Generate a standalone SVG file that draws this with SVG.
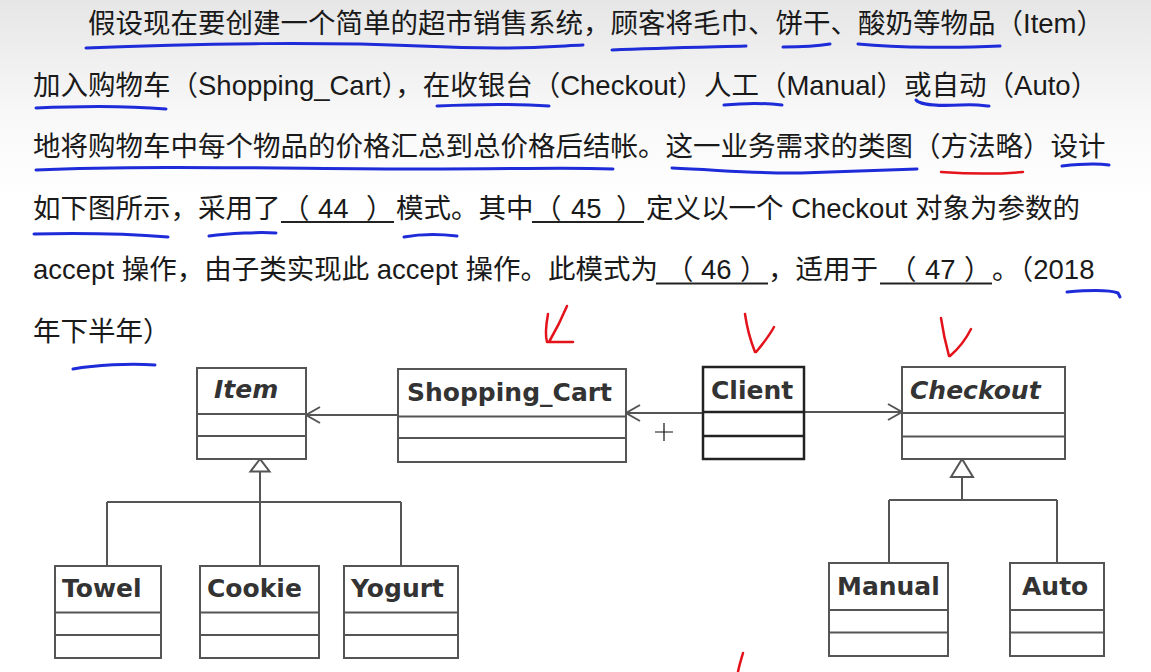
<svg xmlns="http://www.w3.org/2000/svg" width="1151" height="672" viewBox="0 0 1151 672">
<defs>
<linearGradient id="bg" x1="0" y1="0" x2="0" y2="1">
<stop offset="0" stop-color="#e6e6e6"/>
<stop offset="0.17" stop-color="#f8f8f8"/>
<stop offset="0.3" stop-color="#ffffff"/>
<stop offset="1" stop-color="#ffffff"/>
</linearGradient>
<marker id="open" markerUnits="userSpaceOnUse" markerWidth="18" markerHeight="20" viewBox="0 0 18 20" refX="16" refY="10" orient="auto">
<path d="M2,2 L16,10 L2,18" fill="none" stroke="#555" stroke-width="2"/>
</marker>
<style>
.t{font-family:'Liberation Sans','Noto Sans CJK SC',sans-serif;font-size:27.5px;fill:#1a1a1a}
.box{fill:#fff;stroke:#555;stroke-width:2}
.div{stroke:#555;stroke-width:2}
.lbl{font-family:'DejaVu Sans',sans-serif;font-weight:bold;font-size:25px;fill:#333}
.it{font-style:italic}
.conn{stroke:#555;stroke-width:2;fill:none}
.tri{fill:#fff;stroke:#555;stroke-width:2}
.ul{stroke:#222;stroke-width:1.8}
.blue{stroke:#1e2bd8;stroke-width:3;fill:none;stroke-linecap:round}
.red{stroke:#e3121b;stroke-width:2.5;fill:none;stroke-linecap:round;stroke-linejoin:round}
</style>
</defs>
<rect x="0" y="0" width="1151" height="672" fill="url(#bg)"/>

<g id="question-text">
<text class="t" x="88" y="33">假设现在要创建一个简单的超市销售系统，顾客将毛巾、饼干、酸奶等物品（Item）</text>
<text class="t" x="33" y="94.5">加入购物车（Shopping_Cart），在收银台（Checkout）人工（Manual）或自动（Auto）</text>
<text class="t" x="33" y="156">地将购物车中每个物品的价格汇总到总价格后结帐。这一业务需求的类图（方法略）设计</text>
<text class="t" y="217.5"><tspan x="33">如下图所示，采用了</tspan><tspan x="282">（</tspan><tspan x="318">44</tspan><tspan x="366">）</tspan><tspan x="396">模式。其中</tspan><tspan x="534">（</tspan><tspan x="571">45</tspan><tspan x="616">）</tspan><tspan x="646">定义以一个 Checkout 对象为参数的</tspan></text>
<text class="t" y="279"><tspan x="33">accept 操作，由子类实现此 accept 操作。此模式为</tspan><tspan x="666">（</tspan><tspan x="701">46</tspan><tspan x="740">）</tspan><tspan x="768">，适用于</tspan><tspan x="889">（</tspan><tspan x="925">47</tspan><tspan x="964">）</tspan><tspan x="992">。（2018</tspan></text>
<text class="t" x="33" y="340.5">年下半年）</text>
<line class="ul" x1="281" y1="222" x2="394" y2="222"/>
<line class="ul" x1="532" y1="222" x2="644" y2="222"/>
<line class="ul" x1="656" y1="283.5" x2="768" y2="283.5"/>
<line class="ul" x1="880" y1="283.5" x2="992" y2="283.5"/>
</g>

<g id="annotations">
<path class="blue" d="M86,48 C200,43 330,42 420,46 S540,47 583,45"/>
<path class="blue" d="M612,50 C660,48 710,47 746,46"/>
<path class="blue" d="M783,47 C800,47 818,46 830,44"/>
<path class="blue" d="M858,44 C900,48 960,48 1000,46"/>
<path class="blue" d="M36,108 C80,106 130,106 166,109"/>
<path class="blue" d="M437,106 C480,104 520,104 549,106"/>
<path class="blue" d="M724,105 C745,103 765,103 782,105"/>
<path class="blue" d="M916,100 C920,105 940,106 960,105 S985,106 989,106"/>
<path class="blue" d="M36,170 C150,165 300,169 420,169 S560,167 613,169"/>
<path class="blue" d="M672,168 C720,170 760,174 800,173 S880,170 917,169"/>
<path class="red" d="M941,172 C970,174 1000,174 1023,172"/>
<path class="blue" d="M1062,166 C1080,164 1095,163 1109,165"/>
<path class="blue" d="M34,234 C80,233 130,234 168,237"/>
<path class="blue" d="M209,236 C230,233 260,232 276,233"/>
<path class="blue" d="M404,237 C420,234 440,234 457,236"/>
<path class="blue" d="M1067,292 C1090,290 1110,290 1118,293 L1120,297"/>
<path class="blue" d="M73,369 C95,365 130,363 155,365"/>
<path class="red" d="M548,314 C546,325 545,335 547,342 L573,342 M567,306 C562,318 556,330 549,342"/>
<path class="red" d="M745,314 C747,328 751,342 755,352 M774,327 C768,338 761,346 756,352"/>
<path class="red" d="M941,318 C943,332 946,345 949,356 M971,329 C965,341 957,350 950,356"/>
<path class="red" d="M743,653 C741,660 739,666 738,672"/>
<path d="M655,432 H673 M664,423 V441" stroke="#111" stroke-width="1.2" fill="none"/>
</g>

<g id="connectors">
<line class="conn" x1="398" y1="415" x2="306" y2="415" marker-end="url(#open)"/>
<line class="conn" x1="703" y1="413" x2="626" y2="413" marker-end="url(#open)"/>
<line class="conn" x1="804" y1="412" x2="902" y2="412" marker-end="url(#open)"/>
<path class="conn" d="M260,471.5 V502 M107,502 H401 M107,502 V566 M260,502 V566 M401,502 V566"/>
<polygon class="tri" points="260,459 250.5,471.5 269.5,471.5"/>
<path class="conn" d="M962,477 V500 M889,500 H1057 M889,500 V563 M1057,500 V563"/>
<polygon class="tri" points="962,459 951,477 973,477"/>
</g>

<g id="Item">
<rect class="box" x="197" y="368" width="109" height="91"/>
<line class="div" x1="197" y1="414" x2="306" y2="414"/>
<line class="div" x1="197" y1="436" x2="306" y2="436"/>
<text class="lbl it" x="214" y="398">Item</text>
</g>
<g id="Shopping_Cart">
<rect class="box" x="398" y="369" width="228" height="93"/>
<line class="div" x1="398" y1="416.5" x2="626" y2="416.5"/>
<line class="div" x1="398" y1="438" x2="626" y2="438"/>
<text class="lbl" x="407" y="401">Shopping_Cart</text>
</g>
<g id="Client">
<rect x="703" y="367" width="101" height="92" fill="#fff" stroke="#222" stroke-width="2.5"/>
<line x1="703" y1="412" x2="804" y2="412" stroke="#222" stroke-width="2.5"/>
<line x1="703" y1="436" x2="804" y2="436" stroke="#222" stroke-width="2.5"/>
<text class="lbl" x="711" y="399">Client</text>
</g>
<g id="Checkout">
<rect class="box" x="902" y="367" width="163" height="92"/>
<line class="div" x1="902" y1="413" x2="1065" y2="413"/>
<line class="div" x1="902" y1="436.5" x2="1065" y2="436.5"/>
<text class="lbl it" x="910" y="399">Checkout</text>
</g>
<g id="Towel">
<rect class="box" x="55" y="566" width="106" height="92"/>
<line class="div" x1="55" y1="612.5" x2="161" y2="612.5"/>
<line class="div" x1="55" y1="635" x2="161" y2="635"/>
<text class="lbl" x="62" y="597">Towel</text>
</g>
<g id="Cookie">
<rect class="box" x="200" y="566" width="119" height="92"/>
<line class="div" x1="200" y1="612.5" x2="319" y2="612.5"/>
<line class="div" x1="200" y1="635" x2="319" y2="635"/>
<text class="lbl" x="207" y="597">Cookie</text>
</g>
<g id="Yogurt">
<rect class="box" x="344" y="566" width="114" height="92"/>
<line class="div" x1="344" y1="612.5" x2="458" y2="612.5"/>
<line class="div" x1="344" y1="635" x2="458" y2="635"/>
<text class="lbl" x="351" y="597">Yogurt</text>
</g>
<g id="Manual">
<rect class="box" x="829" y="563" width="119" height="93"/>
<line class="div" x1="829" y1="610" x2="948" y2="610"/>
<line class="div" x1="829" y1="632.5" x2="948" y2="632.5"/>
<text class="lbl" x="837" y="595">Manual</text>
</g>
<g id="Auto">
<rect class="box" x="1010" y="563" width="94" height="93"/>
<line class="div" x1="1010" y1="610" x2="1104" y2="610"/>
<line class="div" x1="1010" y1="632.5" x2="1104" y2="632.5"/>
<text class="lbl" x="1022" y="595">Auto</text>
</g>
</svg>
